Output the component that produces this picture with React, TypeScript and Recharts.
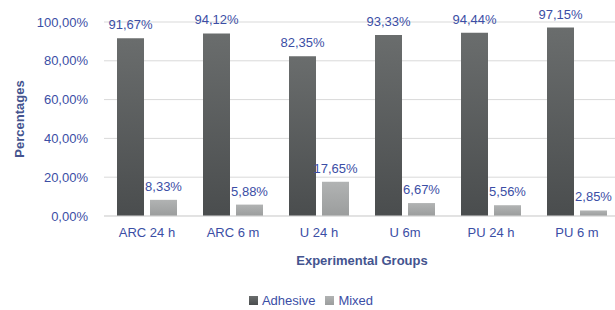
import { BarChart, Bar, XAxis, YAxis, CartesianGrid, Legend, LabelList, Label } from 'recharts'

const groups = ['ARC 24 h', 'ARC 6 m', 'U 24 h', 'U 6m', 'PU 24 h', 'PU 6 m']
const adhesive = [91.67, 94.12, 82.35, 93.33, 94.44, 97.15]
const mixed = [8.33, 5.88, 17.65, 6.67, 5.56, 2.85]
const yTicks = [0, 20, 40, 60, 80, 100]

const BLUE = '#3b4ea5'
const FONT = '"Liberation Sans", Arial, sans-serif'

const fmt = (v: unknown) => `${Number(v).toFixed(2).replace('.', ',')}%`

const data = groups.map((g, i) => ({ group: g, Adhesive: adhesive[i], Mixed: mixed[i] }))

export default function App() {
  return (
    <div style={{ width: 615, height: 310, fontFamily: FONT, background: '#fff', overflow: 'hidden' }}>
      <style>{'body{margin:0}'}</style>
      <BarChart
        width={615}
        height={310}
        data={data}
        margin={{ top: 22, right: -5, left: 0, bottom: 1 }}
        barGap={6}
        barCategoryGap={12}
      >
        <defs>
          <linearGradient id="gAdh" x1="0" y1="0" x2="0" y2="1">
            <stop offset="0%" stopColor="#6a6d6d" />
            <stop offset="100%" stopColor="#4a4d4e" />
          </linearGradient>
          <linearGradient id="gMix" x1="0" y1="0" x2="0" y2="1">
            <stop offset="0%" stopColor="#b1b3b3" />
            <stop offset="100%" stopColor="#9b9d9d" />
          </linearGradient>
        </defs>
        <CartesianGrid vertical={false} stroke="#d9d9d9" />
        <XAxis
          dataKey="group"
          axisLine={{ stroke: '#d9d9d9' }}
          tickLine={false}
          tick={{ fill: BLUE, fontSize: 13, fontFamily: FONT }}
          tickMargin={6}
          height={52}
        >
          <Label
            value="Experimental Groups"
            position="insideBottom"
            offset={3}
            style={{ fill: '#44548f', fontSize: 13, fontWeight: 'bold', fontFamily: FONT }}
          />
        </XAxis>
        <YAxis
          domain={[0, 100]}
          ticks={yTicks}
          tickFormatter={fmt}
          axisLine={false}
          tickLine={false}
          tickSize={0}
          tickMargin={16}
          width={104}
          tick={{ fill: BLUE, fontSize: 13, fontFamily: FONT }}
        >
          <Label
            value="Percentages"
            angle={-90}
            position="insideLeft"
            offset={19}
            style={{ fill: '#44548f', fontSize: 13, fontWeight: 'bold', fontFamily: FONT, textAnchor: 'middle' }}
          />
        </YAxis>
        <Legend
          verticalAlign="bottom"
          iconType="square"
          iconSize={9}
          formatter={(v) => <span style={{ color: BLUE, fontSize: 13, fontFamily: FONT }}>{v}</span>}
          wrapperStyle={{ paddingTop: 23, paddingLeft: 6 }}
        />
        <Bar dataKey="Adhesive" fill="url(#gAdh)" barSize={27} isAnimationActive={false} legendType="square">
          <LabelList dataKey="Adhesive" position="top" offset={9} formatter={fmt} style={{ fill: BLUE, fontSize: 13, fontFamily: FONT }} />
        </Bar>
        <Bar dataKey="Mixed" fill="url(#gMix)" barSize={27} isAnimationActive={false} legendType="square">
          <LabelList dataKey="Mixed" position="top" offset={9} formatter={fmt} style={{ fill: BLUE, fontSize: 13, fontFamily: FONT }} />
        </Bar>
      </BarChart>
    </div>
  )
}
